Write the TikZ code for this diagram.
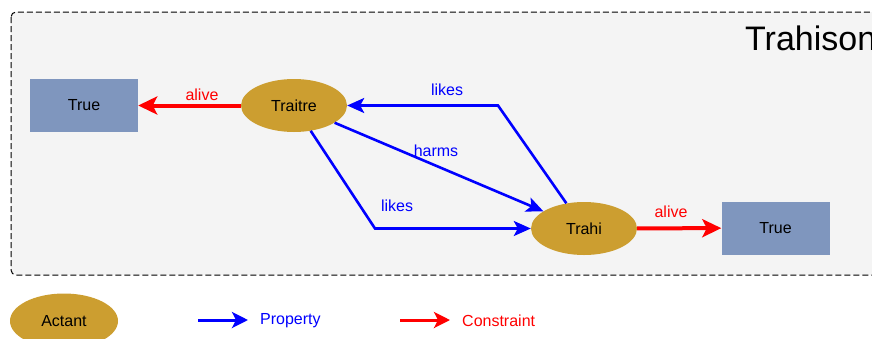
\documentclass[tikz,border=0pt]{standalone}
\usepackage{fontspec}
\setmainfont{Liberation Sans}
\usetikzlibrary{shapes.geometric,arrows.meta}
\definecolor{bggray}{HTML}{F4F4F4}
\definecolor{actantfill}{HTML}{CC9E30}
\definecolor{valfill}{HTML}{7F96BE}
\tikzset{
  actant/.style={ellipse,fill=actantfill,draw=none,minimum width=106pt,minimum height=53pt,inner sep=0pt,font=\fontsize{16}{19}\selectfont},
  valbox/.style={rectangle,fill=valfill,draw=none,minimum width=108pt,minimum height=53pt,inner sep=0pt,font=\fontsize{16}{19}\selectfont},
  prop/.style={draw=blue,line width=2.6pt,-{Stealth[length=17pt,width=15pt,inset=4pt]}},
  cons/.style={draw=red,line width=4pt,-{Stealth[length=19pt,width=18pt,inset=4.5pt]}},
  proplab/.style={text=blue,font=\fontsize{16}{19}\selectfont,inner sep=0pt},
  conslab/.style={text=red,font=\fontsize{16}{19}\selectfont,inner sep=0pt},
  legprop/.style={draw=blue,line width=3pt,-{Stealth[length=16pt,width=16pt,inset=4pt]}},
  legcons/.style={draw=red,line width=3pt,-{Stealth[length=16pt,width=16pt,inset=4pt]}},
}
\begin{document}
\begin{tikzpicture}[x=1pt,y=-1pt]
\useasboundingbox (0,0) rectangle (872,338);
\clip (0,0) rectangle (872,338);
\draw[dash pattern=on 6pt off 3pt,line width=1pt,fill=bggray,rounded corners=5pt] (11,12) rectangle (890,275);
\node[anchor=base west,inner sep=0pt,font=\fontsize{34}{40}\selectfont] (title) at (745,50) {Trahison};

\node[valbox] (trueL) at (84,105.5) {True};
\node[actant] (traitre) at (294,105.5) {Traitre};
\node[actant] (trahi) at (584,228.5) {Trahi};
\node[valbox] (trueR) at (775.5,228) {True};

\coordinate (c1) at (498,105.5);
\coordinate (c2) at (375,228.5);

\draw[cons] (traitre) -- (trueL);
\node[conslab] (alive1) at (202,95) {alive};

\draw[prop] (trahi) -- (c1) -- (traitre);
\node[proplab] (likes1) at (447,90) {likes};

\draw[prop] (traitre) -- (trahi);
\node[proplab] (harms) at (436,151) {harms};

\draw[prop] (traitre) -- (c2) -- (trahi);
\node[proplab] (likes2) at (397,206) {likes};

\draw[cons] (trahi) -- (trueR);
\node[conslab] (alive2) at (671,212) {alive};

% legend
\node[actant,minimum width=108pt,minimum height=55pt] (legact) at (64,321) {Actant};
\coordinate (lp1) at (198,320);
\coordinate (lp2) at (248,320);
\draw[legprop] (lp1) -- (lp2);
\node[anchor=west,text=blue,inner sep=0pt,font=\fontsize{16}{19}\selectfont] (legproptext) at (260,321) {Property};
\coordinate (lc1) at (400,320);
\coordinate (lc2) at (450,320);
\draw[legcons] (lc1) -- (lc2);
\node[anchor=west,text=red,inner sep=0pt,font=\fontsize{16}{19}\selectfont] (legconstext) at (462,321) {Constraint};
\end{tikzpicture}
\end{document}
